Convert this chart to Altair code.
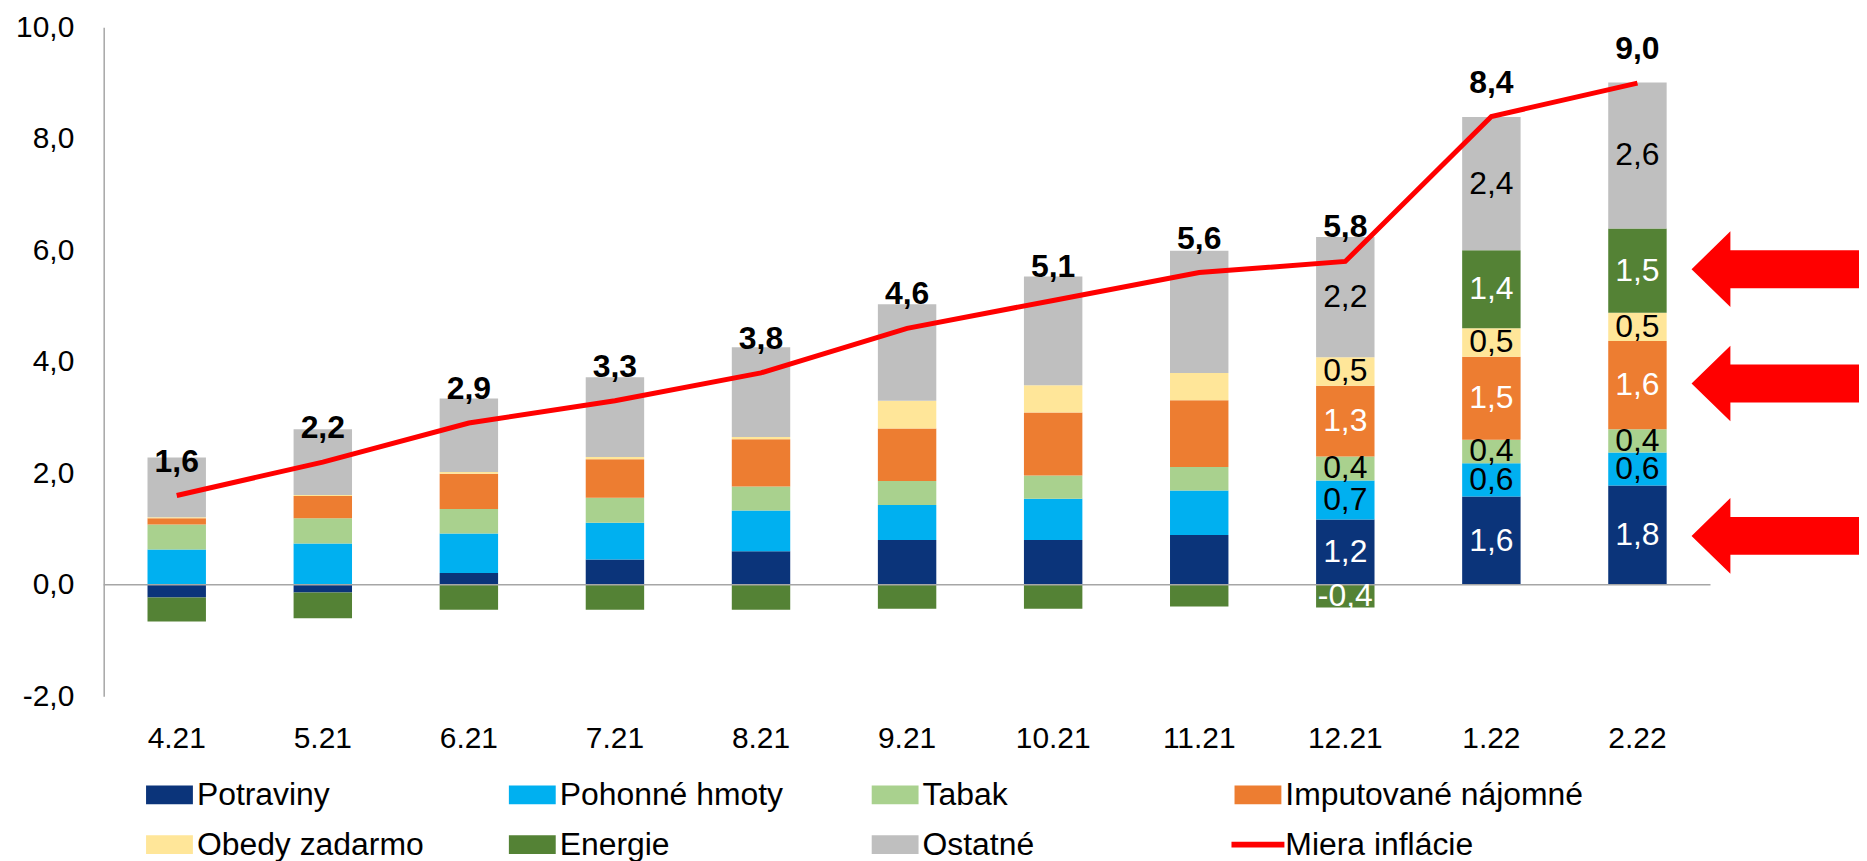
import altair as alt
import pandas as pd

# ---------------- data ----------------
months = ["4.21", "5.21", "6.21", "7.21", "8.21", "9.21", "10.21", "11.21", "12.21", "1.22", "2.22"]
series = ["Potraviny", "Pohonné hmoty", "Tabak", "Imputované nájomné",
          "Obedy zadarmo", "Energie", "Ostatné"]
line_name = "Miera inflácie"
colors = ["#0B347A", "#00B0F0", "#A9D18E", "#ED7D31", "#FFE699", "#548235", "#BFBFBF"]
line_color = "#FF0000"

potraviny = [-0.23, -0.14, 0.21, 0.45, 0.60, 0.80, 0.80, 0.89, 1.17, 1.58, 1.78]
pohonne = [0.63, 0.74, 0.71, 0.66, 0.73, 0.63, 0.74, 0.80, 0.70, 0.60, 0.59]
tabak = [0.45, 0.45, 0.44, 0.45, 0.43, 0.43, 0.42, 0.42, 0.43, 0.42, 0.42]
imputovane = [0.11, 0.40, 0.63, 0.69, 0.85, 0.94, 1.13, 1.20, 1.27, 1.49, 1.58]
obedy = [0.02, 0.02, 0.03, 0.04, 0.04, 0.50, 0.49, 0.49, 0.51, 0.51, 0.51]
energie = [-0.43, -0.46, -0.45, -0.45, -0.45, -0.43, -0.43, -0.39, -0.41, 1.40, 1.51]
ostatne = [1.07, 1.18, 1.32, 1.43, 1.61, 1.73, 1.95, 2.19, 2.16, 2.39, 2.62]
inflacia = [1.6, 2.2, 2.9, 3.3, 3.8, 4.6, 5.1, 5.6, 5.8, 8.4, 9.0]

labeled_months = ["12.21", "1.22", "2.22"]
white_label_series = ["Potraviny", "Imputované nájomné", "Energie"]
arrow_levels = [5.66, 3.61, 0.875]
y_ticks = [-2, 0, 2, 4, 6, 8, 10]

# ---------------- tables ----------------
components = [potraviny, pohonne, tabak, imputovane, obedy, energie, ostatne]
rows = []
for i, m in enumerate(months):
    for j, (s, vals) in enumerate(zip(series, components)):
        rows.append({"month": m, "series": s, "ord": j, "value": vals[i],
                     "show": m in labeled_months,
                     "tcolor": "#FFFFFF" if s in white_label_series else "#000000"})
df = pd.DataFrame(rows)
line_df = pd.DataFrame({"month": months, "value": inflacia})
arrow_df = pd.DataFrame({"level": arrow_levels})
legend_names = series + [line_name]
legend_df = pd.DataFrame({"series": legend_names,
                          "col": [k % 4 for k in range(len(legend_names))],
                          "row": [k // 4 for k in range(len(legend_names))]})
zero_df = pd.DataFrame({"zero": [0]})

W, H = 1612, 671
FONT = "Liberation Sans"
fmt = "replace(replace(format(datum.value, '.1f'), '.', ','), '\u2212', '-')"

x_enc = alt.X("month:N", sort=months,
              scale=alt.Scale(paddingInner=0.6, paddingOuter=0.3),
              axis=alt.Axis(title=None, domain=False, ticks=False, labelAngle=0,
                            labelFontSize=30, labelFont=FONT, labelColor="#000000",
                            labelPadding=28))
y_scale = alt.Scale(domain=[-2, 10], nice=False, zero=False)
y_axis = alt.Axis(title=None, values=y_ticks, labelExpr=fmt, grid=False, ticks=False,
                  domainColor="#A6A6A6", domainWidth=1.5, labelFontSize=30,
                  labelFont=FONT, labelColor="#000000", labelPadding=30)

color_scale = alt.Scale(domain=legend_names, range=colors + [line_color])

bars = alt.Chart(df).mark_bar().encode(
    x=x_enc,
    y=alt.Y("value:Q", stack="zero", scale=y_scale, axis=y_axis),
    color=alt.Color("series:N", scale=color_scale, legend=None),
    order=alt.Order("ord:Q", sort="ascending"),
)

zero_rule = alt.Chart(zero_df).mark_rule(color="#A6A6A6", strokeWidth=1.5).encode(
    y=alt.Y("zero:Q", scale=y_scale, axis=y_axis)
)

line = alt.Chart(line_df).mark_line(color=line_color, strokeWidth=5).encode(
    x=x_enc, y=alt.Y("value:Q", scale=y_scale, axis=y_axis)
)

totals = alt.Chart(line_df).transform_calculate(label=fmt).mark_text(
    font=FONT, fontSize=32, fontWeight="bold", dy=-24, baseline="alphabetic", color="#000000"
).encode(x=x_enc, y=alt.Y("value:Q", scale=y_scale, axis=y_axis), text="label:N")

seg_labels = alt.Chart(df).transform_stack(
    stack="value", groupby=["month"], as_=["v0", "v1"], offset="zero",
    sort=[alt.SortField("ord", order="ascending")]
).transform_filter("datum.show").transform_calculate(
    mid="(datum.v0 + datum.v1) / 2", label=fmt
).mark_text(font=FONT, fontSize=32, baseline="middle").encode(
    x=x_enc,
    y=alt.Y("mid:Q", scale=y_scale, axis=y_axis),
    text="label:N",
    color=alt.Color("tcolor:N", scale=None),
)

arrow_path = "M-1,0L-0.536,-0.452L-0.536,-0.226L1,-0.226L1,0.226L-0.536,0.226L-0.536,0.452Z"
arrows = alt.Chart(arrow_df).mark_point(
    shape=arrow_path, size=168 ** 2, filled=True, opacity=1, color=line_color, strokeWidth=0
).encode(x=alt.value(W + 65), y=alt.Y("level:Q", scale=y_scale, axis=y_axis))

main = alt.layer(bars, zero_rule, line, totals, seg_labels, arrows).properties(
    width=W, height=H)

# ---------------- legend (own small chart) ----------------
rect_path = "M-1,-0.4L1,-0.4L1,0.4L-1,0.4Z"
line_path = "M-1.13,-0.12L1.13,-0.12L1.13,0.12L-1.13,0.12Z"
shape_scale = alt.Scale(domain=legend_names, range=[rect_path] * 7 + [line_path])
LX0, LSTEP = 66, 364
lx = alt.X("col:Q", scale=alt.Scale(domain=[0, 4], range=[LX0, LX0 + 4 * LSTEP]), axis=None)
ly = alt.Y("row:Q", scale=alt.Scale(domain=[0, 1], range=[16, 66]), axis=None)

leg_symbols = alt.Chart(legend_df).mark_point(
    filled=True, opacity=1, size=2209, strokeWidth=0
).encode(
    x=lx, y=ly,
    color=alt.Color("series:N", scale=color_scale, legend=None),
    shape=alt.Shape("series:N", scale=shape_scale, legend=None),
)
leg_text = alt.Chart(legend_df).mark_text(
    align="left", baseline="middle", dx=27.5, font=FONT, fontSize=32, color="#000000"
).encode(x=lx, y=ly, text="series:N")

legend_chart = alt.layer(leg_symbols, leg_text).properties(width=W, height=84)

chart = alt.vconcat(main, legend_chart, spacing=25).properties(
    padding={"left": 7, "top": 3, "right": 0, "bottom": 0},
    background="white",
).configure_view(stroke=None)

chart.save("out.html", embed_options={"renderer": "svg", "actions": False})
